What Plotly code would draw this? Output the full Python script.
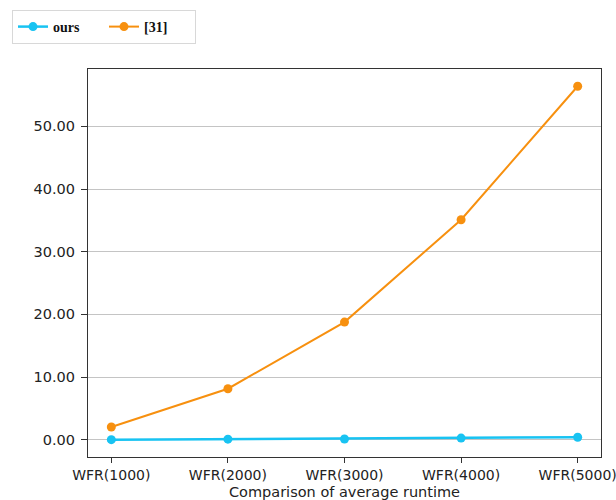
import plotly.graph_objects as go

categories = ["WFR(1000)", "WFR(2000)", "WFR(3000)", "WFR(4000)", "WFR(5000)"]
ours = [0.02, 0.10, 0.13, 0.27, 0.40]
ref31 = [2.03, 8.14, 18.77, 35.1, 56.4]
y_ticks = [0, 10, 20, 30, 40, 50]

x_idx = list(range(len(categories)))

fig = go.Figure()
fig.add_trace(go.Scatter(
    x=x_idx, y=ref31, name="[31]", mode="lines+markers",
    line=dict(color="#F7900F", width=2), marker=dict(size=9, color="#F7900F"),
))
fig.add_trace(go.Scatter(
    x=x_idx, y=ours, name="ours", mode="lines+markers",
    line=dict(color="#18C3F2", width=2.5), marker=dict(size=9, color="#18C3F2"),
))

fig.update_layout(
    width=616, height=500,
    margin=dict(l=88, r=15, t=69, b=43),
    plot_bgcolor="white", paper_bgcolor="white",
    font=dict(family="DejaVu Sans", size=14.5, color="#222"),
    showlegend=True,
    legend=dict(
        orientation="h", traceorder="reversed",
        xref="container", yref="container",
        x=12/616, y=1-10/500, xanchor="left", yanchor="top",
        bordercolor="#d8d8d8", borderwidth=1, bgcolor="white",
        font=dict(family="Liberation Serif", size=14, color="#111", weight="bold"),
        entrywidth=46, entrywidthmode="pixels",
    ),
    xaxis=dict(
        tickmode="array", tickvals=x_idx, ticktext=categories,
        range=[-0.2, 4.2], automargin=False, ticklabeloverflow="allow",
        tickfont=dict(size=14),
        showgrid=False, zeroline=False,
        showline=True, linecolor="#333", linewidth=1.2, mirror=True,
        ticks="outside", ticklen=5, tickcolor="#333",
        title=dict(text="Comparison of average runtime", standoff=4, font=dict(size=14.5)),
    ),
    yaxis=dict(
        tickmode="array", tickvals=y_ticks, ticktext=[f"{v:.2f}" for v in y_ticks],
        range=[-2.75, 59.15], automargin=False,
        showgrid=True, gridcolor="#c4c4c4", gridwidth=1, zeroline=False,
        showline=True, linecolor="#333", linewidth=1.2, mirror=True,
        ticks="outside", ticklen=6, tickcolor="#333", ticklabelstandoff=3,
    ),
)

fig.write_html("out.html")
